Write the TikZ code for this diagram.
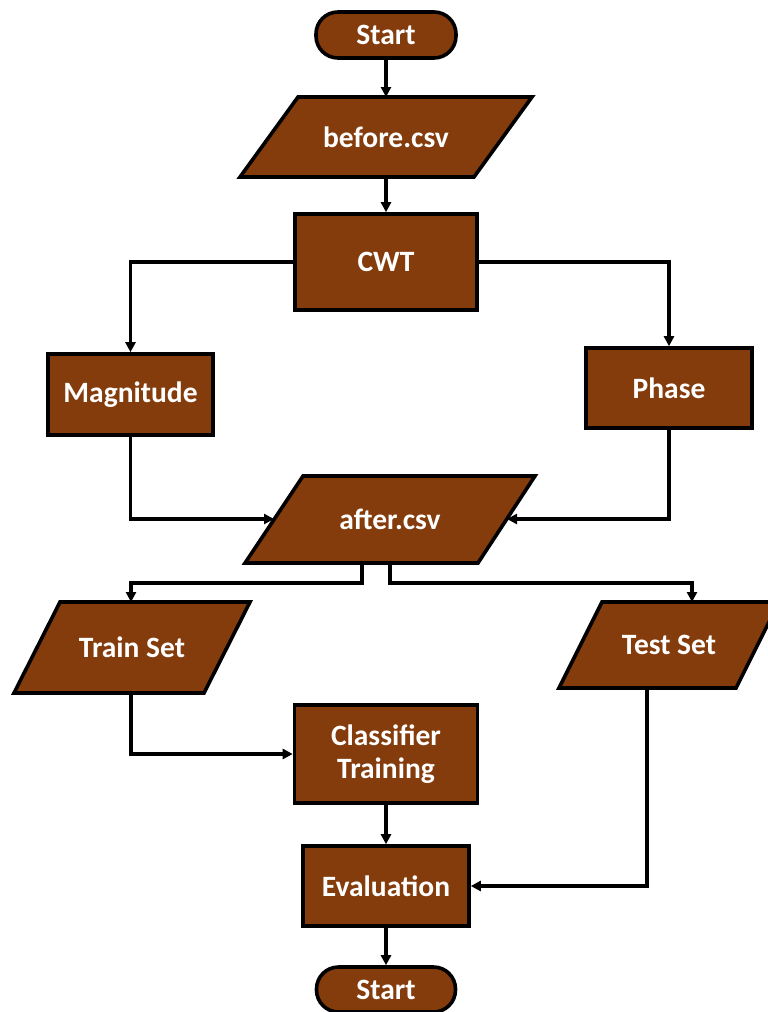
\documentclass[tikz,border=0pt]{standalone}
\usepackage{fontspec}
\setmainfont{Carlito}
\usetikzlibrary{arrows.meta}
\definecolor{boxfill}{HTML}{843C0C}
\begin{document}
\begin{tikzpicture}[x=1pt,y=-1pt,
  every node/.style={font=\fontsize{29.5}{32}\selectfont\bfseries, text=white, align=center},
  base/.style={draw=black, line width=3.6pt, fill=boxfill, inner sep=0pt, line join=miter},
  proc/.style={base, rectangle},
  term/.style={base, rectangle, rounded corners=22pt},
  lbl/.style={inner sep=0pt},
  arr/.style={line width=3.2pt, -{Triangle[length=10pt,width=10pt]}}
]
\useasboundingbox (0,0) rectangle (768,1012);
% terminators and process boxes
\node[term, minimum width=140pt, minimum height=46pt] (start) at (386,35) {Start};
\node[proc, minimum width=182pt, minimum height=96pt] (cwt) at (386,262) {CWT};
\node[proc, minimum width=165pt, minimum height=81pt] (mag) at (130.5,394.5) {Magnitude};
\node[proc, minimum width=166pt, minimum height=80pt] (phase) at (669,388) {Phase};
\node[proc, minimum width=183pt, minimum height=98pt] (cls) at (386,754) {Classifier\\[1pt]Training};
\node[proc, minimum width=166pt, minimum height=80pt] (eval) at (386,886) {Evaluation};
\node[term, minimum width=139pt, minimum height=45pt] (end) at (386,989.5) {Start};
% data (parallelogram) shapes
\draw[base] (298,97) -- (532,97) -- (474,177) -- (240,177) -- cycle;
\node[lbl] (before) at (386,137) {before.csv};
\draw[base] (303,476) -- (535,476) -- (478,563) -- (245,563) -- cycle;
\node[lbl] (after) at (390,519) {after.csv};
\draw[base] (60,602) -- (250,602) -- (204,693) -- (14,693) -- cycle;
\node[lbl] (train) at (132,647.5) {Train Set};
\draw[base] (602,602) -- (779,602) -- (736,688) -- (559,688) -- cycle;
\node[lbl] (test) at (669,645) {Test Set};
% connection points on the parallelograms
\coordinate (beforeT) at (386,97);
\coordinate (beforeB) at (386,177);
\coordinate (afterW) at (274,519);
\coordinate (afterE) at (507,519);
\coordinate (afterBL) at (362,563);
\coordinate (afterBR) at (390,563);
\coordinate (trainT) at (131,602);
\coordinate (trainB) at (131,693);
\coordinate (testT) at (692,602);
\coordinate (testB) at (647,688);

\draw[arr] (start) -- (beforeT);
\draw[arr] (beforeB) -- (cwt);
\draw[arr] (cwt.west) -| (mag.north);
\draw[arr] (cwt.east) -| (phase.north);
\draw[arr] (mag.south) |- (afterW);
\draw[arr] (phase.south) |- (afterE);
\draw[arr] (afterBL) -- ++(0,20) -| (trainT);
\draw[arr] (afterBR) -- ++(0,20) -| (testT);
\draw[arr] (trainB) |- (cls.west);
\draw[arr] (testB) |- (eval.east);
\draw[arr] (cls) -- (eval);
\draw[arr] (eval) -- (end);
\end{tikzpicture}
\end{document}
